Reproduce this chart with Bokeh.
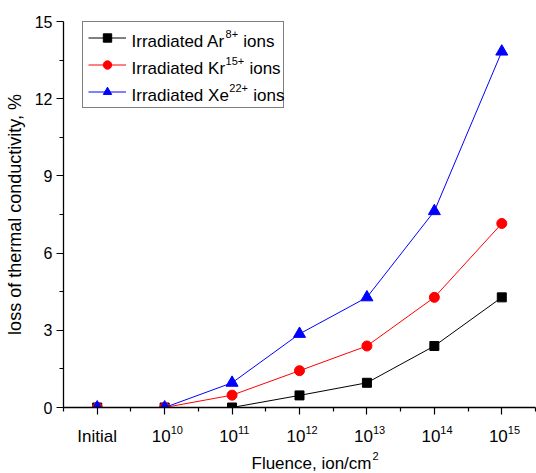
from bokeh.plotting import figure
from bokeh.layouts import column
from bokeh.models import FixedTicker, Legend, LegendItem, Range1d, ColumnDataSource, LabelSet
from bokeh.core.properties import value
from bokeh.embed import file_html
from bokeh.resources import INLINE

# ---------------- data ----------------
categories = ["Initial", "10^10", "10^11", "10^12", "10^13", "10^14", "10^15"]
ar_values = [0, 0, 0, 0.47, 0.96, 2.39, 4.28]
kr_values = [0, 0, 0.48, 1.43, 2.39, 4.28, 7.15]
xe_values = [0, 0, 0.96, 2.86, 4.28, 7.63, 13.83]
y_ticks = [0, 3, 6, 9, 12, 15]
y_minor = [1.5, 4.5, 7.5, 10.5, 13.5]
series_names = [("Irradiated Ar", "8+", "ions"),
                ("Irradiated Kr", "15+", "ions"),
                ("Irradiated Xe", "22+", "ions")]
x_title = ("Fluence, ion/cm", "2")
y_title = "loss of thermal conductivity, %"

# ---------------- style ----------------
FONT = "Liberation Sans"
BASE = 17
SUP = 11
W = {' ': 278, 'I': 278, 'r': 333, 'a': 556, 'd': 556, 'i': 222, 't': 278, 'e': 556,
     'A': 667, 'K': 667, 'X': 667, 'n': 556, 'o': 556, 's': 500, '+': 584, 'F': 611,
     'l': 222, 'u': 556, 'c': 500, ',': 278, '/': 278, 'm': 833}
for d in "0123456789":
    W[d] = 556


def tw(s, size):
    return sum(W.get(ch, 556) for ch in s) * size / 1000.0


FL, FR, FT = 63, 1, 21
WIDTH, HEIGHT = 536, 473
MAIN_H = 417
MAIN_FB = 10
BOT_H = HEIGHT - MAIN_H
frame_h = MAIN_H - FT - MAIN_FB

xs = list(range(len(categories)))
x_range = Range1d(-0.5, len(categories) - 0.5)
y_range = Range1d(0, 15)

p = figure(width=WIDTH, height=MAIN_H, output_backend="svg", toolbar_location=None,
           x_range=x_range, y_range=y_range,
           min_border_left=FL, min_border_right=FR, min_border_top=FT, min_border_bottom=MAIN_FB)
p.outline_line_color = None
p.grid.visible = False

p.xaxis.ticker = FixedTicker(ticks=xs, minor_ticks=[x + 0.5 for x in range(-1, len(xs))])
p.xaxis.major_label_overrides = {i: "" for i in xs}
p.yaxis.ticker = FixedTicker(ticks=y_ticks, minor_ticks=y_minor)

for ax in (p.xaxis, p.yaxis):
    ax.major_tick_in = 0
    ax.major_tick_out = 7
    ax.minor_tick_in = 0
    ax.minor_tick_out = 4
    ax.axis_line_color = "black"
    ax.major_tick_line_color = "black"
    ax.minor_tick_line_color = "black"
    ax.axis_line_width = 1.3
    ax.major_tick_line_width = 1.2
    ax.minor_tick_line_width = 1.2
    ax.major_label_text_font = FONT
    ax.major_label_text_font_size = "16px"
    ax.major_label_text_color = "black"
    ax.axis_label_text_font = FONT
    ax.axis_label_text_font_size = "18px"
    ax.axis_label_text_font_style = "normal"
    ax.axis_label_text_color = "black"

p.xaxis.major_label_text_font_size = "1px"
p.xaxis.major_label_standoff = 0
p.yaxis.axis_label = y_title
p.yaxis.major_label_standoff = 4
p.yaxis.axis_label_standoff = 7

# ---------------- series ----------------
l1 = p.line(xs, ar_values, color="black", line_width=1)
m1 = p.scatter(xs, ar_values, marker="square", size=9, color="black")
l2 = p.line(xs, kr_values, color="red", line_width=1)
m2 = p.scatter(xs, kr_values, marker="circle", size=10, color="red")
l3 = p.line(xs, xe_values, color="blue", line_width=1)
m3 = p.scatter(xs, xe_values, marker="triangle", size=12, color="blue")


# ---------------- text pieces (LabelSets; y_offset positive = up) ----------------
def new_pieces():
    return dict(x=[], y=[], t=[], size=[], align=[], dx=[], dy=[])


def add(pc, x, y, t, size, align, dx, dy_down):
    pc["x"].append(x)
    pc["y"].append(y)
    pc["t"].append(t)
    pc["size"].append(f"{size}px")
    pc["align"].append(align)
    pc["dx"].append(dx)
    pc["dy"].append(-dy_down)


def labelset(pc):
    return LabelSet(x="x", y="y", text="t", source=ColumnDataSource(pc),
                    x_offset="dx", y_offset="dy",
                    text_font=value(FONT), text_font_size="size", text_align="align",
                    text_baseline="alphabetic", text_color="black", level="overlay")


# legend
LG_LEFT, LG_TOP = 19, 2          # offsets from frame top-left, px
PAD, ITEM_H, SPACING, GLYPH_W, STANDOFF, LABEL_W = 5, 21, 6, 38, 6, 146
lg_h = 2 * PAD + 3 * ITEM_H + 2 * SPACING
lx = LG_LEFT + PAD + GLYPH_W + STANDOFF
inner = new_pieces()
for k, (a, s, b) in enumerate(series_names):
    bl = LG_TOP + PAD + ITEM_H / 2 + k * (ITEM_H + SPACING) + 7.5
    add(inner, x_range.start, y_range.end, a, BASE, "left", lx, bl)
    add(inner, x_range.start, y_range.end, s, SUP, "left", lx + tw(a, BASE) + 0.5, bl - 9)
    add(inner, x_range.start, y_range.end, b, BASE, "left",
        lx + tw(a, BASE) + tw(s, SUP) + tw(" ", BASE) + 1, bl)

legend = Legend(items=[
    LegendItem(label=" ", renderers=[l1, m1]),
    LegendItem(label=" ", renderers=[l2, m2]),
    LegendItem(label=" ", renderers=[l3, m3]),
], location=(LG_LEFT, frame_h - LG_TOP - lg_h))
legend.label_text_font = FONT
legend.label_text_font_size = f"{BASE}px"
legend.border_line_color = "black"
legend.border_line_width = 1
legend.background_fill_alpha = 0
legend.glyph_width = GLYPH_W
legend.glyph_height = ITEM_H
legend.label_height = ITEM_H
legend.label_width = LABEL_W
legend.spacing = SPACING
legend.padding = PAD
legend.margin = 0
legend.label_standoff = STANDOFF
p.add_layout(legend, "center")
p.add_layout(labelset(inner), "center")

# ---------------- lower strip: x tick labels and x title ----------------
b = figure(width=WIDTH, height=BOT_H, output_backend="svg", toolbar_location=None,
           x_range=x_range, y_range=Range1d(0, 1),
           min_border_left=FL, min_border_right=FR, min_border_top=0, min_border_bottom=0)
b.axis.visible = False
b.grid.visible = False
b.outline_line_color = None

TICK_BL = 441 - MAIN_H     # baseline of tick labels from top of strip, px
TITLE_BL = 468 - MAIN_H    # baseline of axis title from top of strip, px
title_left = -48
ytop = 1
xc = (x_range.start + x_range.end) / 2
below = new_pieces()
for i, c in enumerate(categories):
    if "^" in c:
        bs, e = c.split("^")
        add(below, i, ytop, bs, BASE, "right", 6, TICK_BL)
        add(below, i, ytop, e, SUP, "left", 6, TICK_BL - 8)
    else:
        add(below, i, ytop, c, BASE, "center", 0, TICK_BL)
add(below, xc, ytop, x_title[0], BASE, "left", title_left, TITLE_BL)
add(below, xc, ytop, x_title[1], SUP, "left", title_left + tw(x_title[0], BASE) + 1, TITLE_BL - 9)
b.add_layout(labelset(below), "center")

layout = column(p, b, spacing=0)
open("out.html", "w").write(file_html(layout, INLINE))
